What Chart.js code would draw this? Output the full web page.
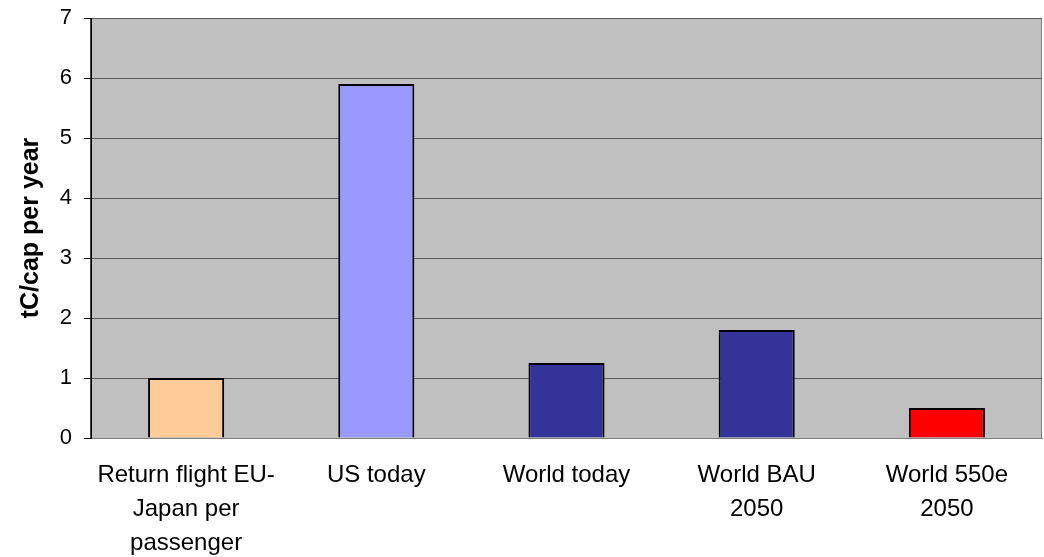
<!DOCTYPE html>
<html>
<head>
<meta charset="utf-8">
<style>
  html, body { margin: 0; padding: 0; background: #fff; }
  #wrap { width: 1044px; height: 557px; }
</style>
<script src="https://cdn.jsdelivr.net/npm/chart.js@4/dist/chart.umd.min.js"></script>
</head>
<body>
<div id="wrap"><canvas id="chart" width="1044" height="557"></canvas></div>
<script>
// data
const categories = [
  ['Return flight EU-', 'Japan per', 'passenger'],
  'US today',
  'World today',
  ['World BAU', '2050'],
  ['World 550e', '2050'],
];
const values = [1.0, 5.9, 1.25, 1.8, 0.5];
const barColors = ['#FFCC99', '#9999FF', '#333399', '#333399', '#FF0000'];
const yTicks = [0, 1, 2, 3, 4, 5, 6, 7];

const FONT = 'Liberation Sans, Arial, sans-serif';

// gray plot background + frame, black left axis on top
const plotFrame = {
  id: 'plotFrame',
  beforeDraw(chart) {
    const { ctx, chartArea: a } = chart;
    ctx.save();
    ctx.fillStyle = '#C0C0C0';
    ctx.fillRect(a.left, a.top, a.right - a.left, a.bottom - a.top);
    ctx.strokeStyle = '#808080';
    ctx.lineWidth = 1;
    ctx.strokeRect(a.left + 0.5, a.top + 0.5, a.right - a.left - 1, a.bottom - a.top);
    ctx.restore();
  },
  afterDatasetsDraw(chart) {
    const { ctx, chartArea: a } = chart;
    ctx.save();
    ctx.strokeStyle = '#000';
    ctx.lineWidth = 1.5;
    ctx.beginPath();
    ctx.moveTo(a.left, a.top);
    ctx.lineTo(a.left, a.bottom);
    ctx.stroke();
    ctx.restore();
  }
};

new Chart(document.getElementById('chart'), {
  type: 'bar',
  data: {
    labels: categories,
    datasets: [{
      data: values,
      backgroundColor: barColors,
      borderColor: '#000',
      borderWidth: 2,
      barPercentage: 0.4,
      categoryPercentage: 1.0,
    }],
  },
  options: {
    responsive: false,
    animation: false,
    devicePixelRatio: 1,
    layout: { padding: { top: 18, right: 2, left: 0, bottom: 0 } },
    plugins: {
      legend: { display: false },
      tooltip: { enabled: false },
    },
    scales: {
      x: {
        grid: { display: false, drawTicks: false },
        border: { display: true, color: '#808080', width: 1 },
        ticks: {
          color: '#000',
          padding: 20,
          maxRotation: 0,
          autoSkip: false,
          font: { family: FONT, size: 24, lineHeight: 1.42 },
        },
        afterFit(scale) { scale.height = 119; },
      },
      y: {
        min: 0,
        max: 7,
        afterBuildTicks(scale) { scale.ticks = yTicks.map(v => ({ value: v })); },
        grid: {
          color: '#5a5a5a',
          lineWidth: 1,
          borderDash: [1, 1],
          drawTicks: true,
          tickLength: 7,
          tickColor: '#000',
          tickBorderDash: [],
        },
        border: { display: true, color: '#000', width: 1 },
        ticks: {
          color: '#000',
          padding: 12,
          font: { family: FONT, size: 22, lineHeight: 0.5 },
        },
        title: {
          display: true,
          text: 'tC/cap per year',
          color: '#000',
          padding: { top: 16, bottom: 0 },
          font: { family: FONT, size: 25, weight: 'bold', lineHeight: 1.2 },
        },
        afterFit(scale) { scale.width = 91; },
      },
    },
  },
  plugins: [plotFrame],
});
</script>
</body>
</html>
